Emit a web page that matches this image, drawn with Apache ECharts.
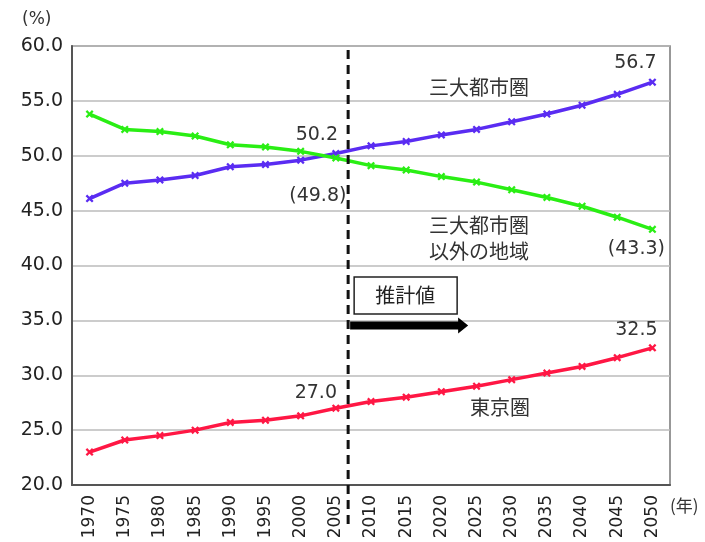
<!DOCTYPE html>
<html>
<head>
<meta charset="utf-8">
<script src="https://cdn.jsdelivr.net/npm/echarts@6/dist/echarts.min.js"></script>
<style>
  html, body { margin: 0; padding: 0; background: #fff; }
  #chart { width: 705px; height: 542px; }
</style>
</head>
<body>
<div id="chart"></div>
<script>
// 年
const years = ['1970', '1975', '1980', '1985', '1990', '1995', '2000', '2005',
  '2010', '2015', '2020', '2025', '2030', '2035', '2040', '2045', '2050'];
// 三大都市圏
const sandai = [46.1, 47.5, 47.8, 48.2, 49.0, 49.2, 49.6, 50.2,
  50.9, 51.3, 51.9, 52.4, 53.1, 53.8, 54.6, 55.6, 56.7];
// 三大都市圏以外の地域
const igai = [53.8, 52.4, 52.2, 51.8, 51.0, 50.8, 50.4, 49.8,
  49.1, 48.7, 48.1, 47.6, 46.9, 46.2, 45.4, 44.4, 43.3];
// 東京圏
const tokyo = [23.0, 24.1, 24.5, 25.0, 25.7, 25.9, 26.3, 27.0,
  27.6, 28.0, 28.5, 29.0, 29.6, 30.2, 30.8, 31.6, 32.5];

const font = "'DejaVu Sans', 'Noto Sans CJK JP', sans-serif";
const jpFont = "'Noto Sans CJK JP', sans-serif";
const cross = 'path://M2,0L5,3L8,0L10,2L7,5L10,8L8,10L5,7L2,10L0,8L3,5L0,2Z';

function lineSeries(name, data, color) {
  return {
    name: name,
    type: 'line',
    data: data,
    symbol: cross,
    symbolSize: 8,
    showAllSymbol: true,
    lineStyle: { color: color, width: 3.5 },
    itemStyle: { color: color },
    z: 3
  };
}

const chart = echarts.init(document.getElementById('chart'));
chart.setOption({
  animation: false,
  grid: { left: 72, right: 35, top: 46, bottom: 57, show: true, borderColor: '#777', borderWidth: 1.5 },
  xAxis: {
    type: 'category',
    data: years,
    boundaryGap: true,
    axisLine: { lineStyle: { color: '#555', width: 2 } },
    axisTick: { show: false },
    axisLabel: { rotate: 90, fontSize: 17, color: '#222', fontFamily: font, margin: 10 }
  },
  yAxis: {
    type: 'value',
    min: 20, max: 60, interval: 5,
    axisLine: { show: true, lineStyle: { color: '#555', width: 2 } },
    axisTick: { show: false },
    splitLine: { lineStyle: { color: '#bbb', width: 1.5 } },
    axisLabel: { fontSize: 19, color: '#222', fontFamily: font, margin: 9,
      formatter: v => v.toFixed(1) }
  },
  series: [
    lineSeries('三大都市圏', sandai, '#5a2cf2'),
    lineSeries('三大都市圏以外の地域', igai, '#2aee14'),
    lineSeries('東京圏', tokyo, '#ff1744')
  ]
});

// annotations positioned from the axes
function px(i, v) { return chart.convertToPixel({ seriesIndex: 0 }, [i, v]); }
const last = years.length - 1;
const i2005 = years.indexOf('2005');
const x05 = px(i2005, 20)[0], x10 = px(i2005 + 1, 20)[0];
const dashX = x05 + (x10 - x05) * 0.35;
const plotTop = px(0, 60)[1];

function valText(i, v, dx, dy, str) {
  const p = px(i, v);
  return { type: 'text', x: p[0] + dx, y: p[1] + dy,
    style: { text: str, fill: '#333', font: '19px ' + font, align: 'center', verticalAlign: 'middle' }, z: 10 };
}
function jpText(x, y, str) {
  return { type: 'text', x: x, y: y,
    style: { text: str, fill: '#333', font: '20px ' + jpFont, align: 'center', verticalAlign: 'middle', lineHeight: 26 }, z: 10 };
}

const arrowY = px(0, 35)[1] + 5;
chart.setOption({
  graphic: [
    { type: 'line', shape: { x1: dashX, y1: plotTop + 4, x2: dashX, y2: 530 },
      style: { stroke: '#111', lineWidth: 3, lineDash: [9, 6] }, z: 5 },
    valText(i2005, sandai[i2005], -19, -18, sandai[i2005].toFixed(1)),
    valText(i2005, igai[i2005], -18, 38, '(' + igai[i2005].toFixed(1) + ')'),
    valText(i2005, tokyo[i2005], -20, -15, tokyo[i2005].toFixed(1)),
    valText(last, sandai[last], -17, -19, sandai[last].toFixed(1)),
    valText(last, igai[last], -16, 20, '(' + igai[last].toFixed(1) + ')'),
    valText(last, tokyo[last], -16, -18, tokyo[last].toFixed(1)),
    jpText(479, 87, '三大都市圏'),
    jpText(479, 238, '三大都市圏\n以外の地域'),
    jpText(500, 407, '東京圏'),
    { type: 'rect', shape: { x: dashX + 6, y: 277, width: 103, height: 37 },
      style: { fill: '#fff', stroke: '#222', lineWidth: 1.5 }, z: 8 },
    { type: 'text', x: dashX + 57, y: 295,
      style: { text: '推計値', fill: '#222', font: '20px ' + jpFont, align: 'center', verticalAlign: 'middle' }, z: 9 },
    { type: 'polygon', shape: { points: [
        [dashX + 2, arrowY - 4], [dashX + 110, arrowY - 4], [dashX + 110, arrowY - 8],
        [dashX + 120, arrowY], [dashX + 110, arrowY + 8], [dashX + 110, arrowY + 4], [dashX + 2, arrowY + 4]] },
      style: { fill: '#000' }, z: 8 },
    { type: 'text', x: 22, y: 20,
      style: { text: '(%)', fill: '#333', font: '17px ' + font, align: 'left', verticalAlign: 'middle' } },
    { type: 'text', x: 670, y: 506,
      style: { text: '(年)', fill: '#333', font: '17px ' + jpFont, align: 'left', verticalAlign: 'middle' } }
  ]
});
</script>
</body>
</html>
